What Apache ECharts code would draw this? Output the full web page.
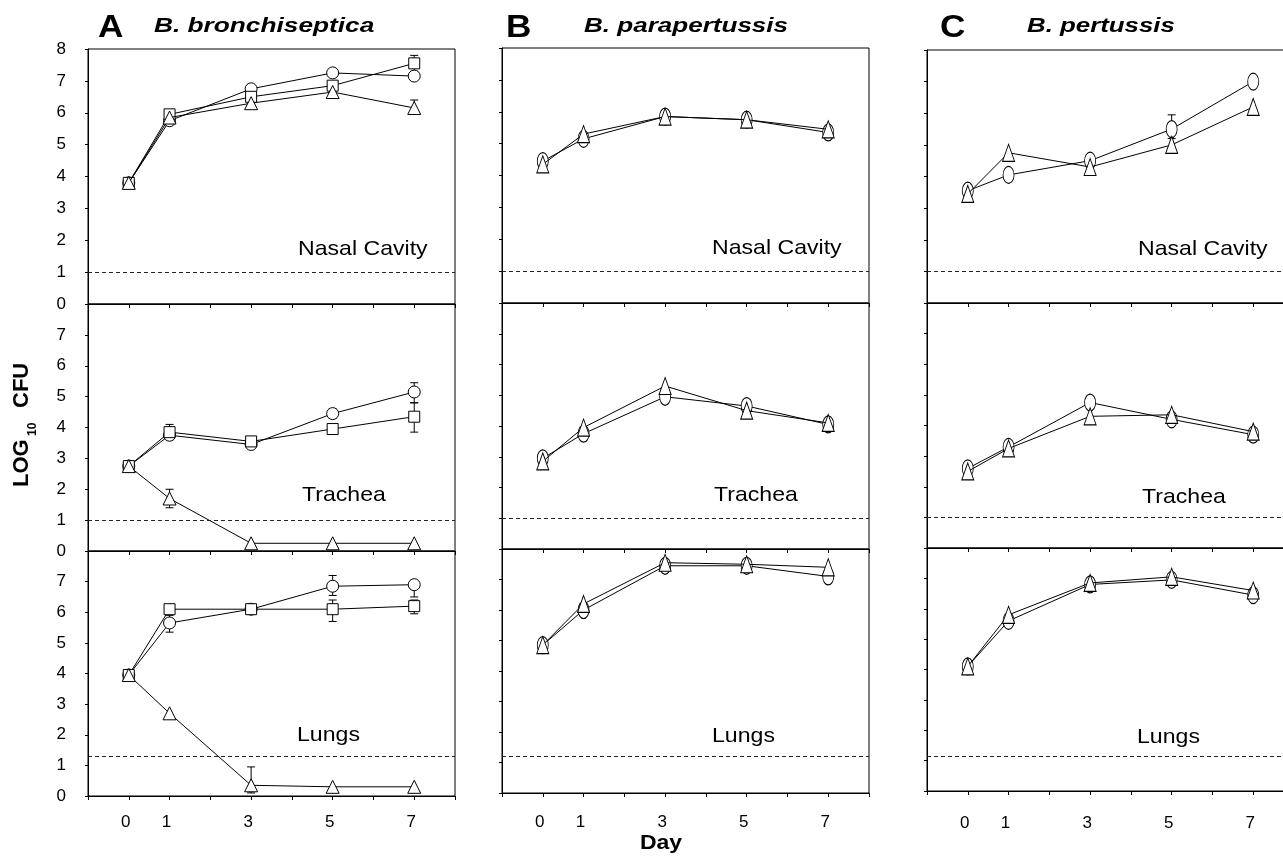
<!DOCTYPE html>
<html><head><meta charset="utf-8">
<script src="https://cdn.jsdelivr.net/npm/echarts@6/dist/echarts.min.js"></script>
<style>html,body{margin:0;padding:0;background:#fff;overflow:hidden}#c{width:1300px;height:856px}</style>
</head><body><div id="c"></div>
<script>
// ---------- data ----------
const days = [0, 1, 3, 5, 7];
const xTickLabels = [0, 1, 3, 5, 7];

// A. B. bronchiseptica
const aNasalCircle   = [3.8, 5.75, 6.75, 7.25, 7.15];
const aNasalSquare   = [3.8, 5.95, 6.5, 6.85, 7.55];
const aNasalTriangle = [3.8, 5.85, 6.3, 6.65, 6.15];
const aTracheaCircle   = [2.75, 3.75, 3.45, 4.45, 5.15];
const aTracheaSquare   = [2.75, 3.85, 3.55, 3.95, 4.35];
const aTracheaTriangle = [2.75, 1.7, 0.25, 0.25, 0.25];
const aLungsCircle   = [3.95, 5.65, 6.1, 6.85, 6.9];
const aLungsSquare   = [3.95, 6.1, 6.1, 6.1, 6.2];
const aLungsTriangle = [3.95, 2.7, 0.35, 0.3, 0.3];

// B. B. parapertussis
const bNasalCircle   = [4.45, 5.15, 5.85, 5.75, 5.35];
const bNasalTriangle = [4.35, 5.3, 5.85, 5.75, 5.45];
const bTracheaCircle   = [2.95, 3.75, 4.95, 4.65, 4.05];
const bTracheaTriangle = [2.85, 3.95, 5.3, 4.5, 4.1];
const bLungsCircle   = [4.85, 6.0, 7.45, 7.45, 7.1];
const bLungsTriangle = [4.85, 6.2, 7.55, 7.5, 7.4];

// C. B. pertussis
const cNasalCircle   = [3.55, 4.05, 4.5, 5.5, 7.0];
const cNasalTriangle = [3.45, 4.75, 4.3, 5.0, 6.2];
const cTracheaCircle   = [2.6, 3.3, 4.75, 4.2, 3.7];
const cTracheaTriangle = [2.5, 3.25, 4.3, 4.35, 3.8];
const cLungsCircle   = [4.1, 5.6, 6.8, 6.95, 6.45];
const cLungsTriangle = [4.1, 5.8, 6.85, 7.05, 6.6];

// error bars: [day, low, high]
const aNasalErrors   = [[7, 7.3, 7.8], [7, 6.0, 6.4]];
const aTracheaErrors = [[1, 3.6, 4.1], [1, 1.4, 2.0], [5, 4.3, 4.6], [7, 4.8, 5.45], [7, 3.85, 4.8]];
const aLungsErrors   = [[1, 5.35, 5.9], [3, 0.1, 0.95], [5, 6.55, 7.2], [5, 5.7, 6.4], [7, 6.5, 7.0], [7, 5.95, 6.4]];
const cNasalErrors   = [[5, 5.2, 5.95]];

// detection limits
const nasalLimits   = [1.0, 1.0, 1.0];
const tracheaLimits = [1.0, 1.0, 1.0];
const lungsLimits   = [1.3, 1.2, 1.15];

const speciesTitles = ['B. bronchiseptica', 'B. parapertussis', 'B. pertussis'];
const panelLetters = ['A', 'B', 'C'];
const tissueNames = ['Nasal Cavity', 'Trachea', 'Lungs'];

// ---------- layout ----------
const cols = [
  { left: 88,  tops: [49, 304, 551], heights: [255, 247, 245], labelMargin: 18 },
  { left: 502, tops: [48, 303, 549], heights: [255, 246, 244], labelMargin: 21 },
  { left: 927, tops: [50, 303, 548], heights: [253, 245, 243], labelMargin: 24 }
];
const gridWidth = 367;

const A_SYM = { circle: ['circle', 12], square: ['rect', 11], triangle: ['triangle', 13] };
const BC_SYM = { circle: ['circle', [11, 17]], triangle: ['triangle', [12, 17]] };

const panels = [
  { col: 0, row: 0, limit: nasalLimits[0], errs: aNasalErrors, lines: [[aNasalCircle, A_SYM.circle], [aNasalSquare, A_SYM.square], [aNasalTriangle, A_SYM.triangle]] },
  { col: 0, row: 1, limit: tracheaLimits[0], errs: aTracheaErrors, lines: [[aTracheaCircle, A_SYM.circle], [aTracheaSquare, A_SYM.square], [aTracheaTriangle, A_SYM.triangle]] },
  { col: 0, row: 2, limit: lungsLimits[0], errs: aLungsErrors, lines: [[aLungsCircle, A_SYM.circle], [aLungsSquare, A_SYM.square], [aLungsTriangle, A_SYM.triangle]] },
  { col: 1, row: 0, limit: nasalLimits[1], errs: [], lines: [[bNasalCircle, BC_SYM.circle], [bNasalTriangle, BC_SYM.triangle]] },
  { col: 1, row: 1, limit: tracheaLimits[1], errs: [], lines: [[bTracheaCircle, BC_SYM.circle], [bTracheaTriangle, BC_SYM.triangle]] },
  { col: 1, row: 2, limit: lungsLimits[1], errs: [], lines: [[bLungsCircle, BC_SYM.circle], [bLungsTriangle, BC_SYM.triangle]] },
  { col: 2, row: 0, limit: nasalLimits[2], errs: cNasalErrors, lines: [[cNasalCircle, BC_SYM.circle], [cNasalTriangle, BC_SYM.triangle]] },
  { col: 2, row: 1, limit: tracheaLimits[2], errs: [], lines: [[cTracheaCircle, BC_SYM.circle], [cTracheaTriangle, BC_SYM.triangle]] },
  { col: 2, row: 2, limit: lungsLimits[2], errs: [], lines: [[cLungsCircle, BC_SYM.circle], [cLungsTriangle, BC_SYM.triangle]] }
];

const FONT = '"Liberation Sans", Arial, Helvetica, sans-serif';

const grids = [], xAxes = [], yAxes = [], series = [];
panels.forEach((p, idx) => {
  const c = cols[p.col];
  grids.push({
    left: c.left, top: c.tops[p.row], width: gridWidth, height: c.heights[p.row],
    outerBoundsMode: 'none', containLabel: false,
    show: true, borderColor: '#000', borderWidth: 1, backgroundColor: 'transparent'
  });
  xAxes.push({
    type: 'value', gridIndex: idx, min: -1, max: 8, interval: 1,
    axisLine: { show: true, onZero: false, lineStyle: { color: '#000', width: 1 } },
    axisTick: { show: true, length: 4, lineStyle: { color: '#000' } },
    splitLine: { show: false },
    axisLabel: {
      show: p.row === 2, color: '#000', fontSize: 17, fontFamily: FONT, margin: c.labelMargin,
      padding: [0, 6, 0, 0],
      formatter: v => xTickLabels.includes(v) ? String(v) : ''
    }
  });
  yAxes.push({
    type: 'value', gridIndex: idx, min: 0, max: 8, interval: 1,
    axisLine: { show: true, onZero: false, lineStyle: { color: '#000', width: 1 } },
    axisTick: { show: true, length: 3, lineStyle: { color: '#000' } },
    splitLine: { show: false },
    axisLabel: {
      show: p.col === 0, color: '#000', fontSize: 17, fontFamily: FONT, margin: 22,
      formatter: v => (v === 8 && p.row !== 0) ? '' : String(v)
    }
  });
  if (p.errs.length) {
    series.push({
      type: 'custom', xAxisIndex: idx, yAxisIndex: idx, z: 1, silent: true,
      data: p.errs, encode: { x: 0, y: [1, 2] },
      renderItem: (params, api) => {
        const lo = api.coord([api.value(0), api.value(1)]);
        const hi = api.coord([api.value(0), api.value(2)]);
        const cw = 4;
        const st = { stroke: '#000', lineWidth: 1 };
        return { type: 'group', children: [
          { type: 'line', shape: { x1: lo[0], y1: lo[1], x2: hi[0], y2: hi[1] }, style: st },
          { type: 'line', shape: { x1: lo[0] - cw, y1: lo[1], x2: lo[0] + cw, y2: lo[1] }, style: st },
          { type: 'line', shape: { x1: hi[0] - cw, y1: hi[1], x2: hi[0] + cw, y2: hi[1] }, style: st }
        ]};
      }
    });
  }
  p.lines.forEach((ln, k) => {
    const s = {
      type: 'line', xAxisIndex: idx, yAxisIndex: idx, z: 2 + k,
      data: days.map((d, i) => [d, ln[0][i]]),
      symbol: ln[1][0], symbolSize: ln[1][1], showAllSymbol: true,
      lineStyle: { color: '#000', width: 1 },
      itemStyle: { color: '#fff', borderColor: '#000', borderWidth: 1 },
      silent: true
    };
    if (k === 0) {
      s.markLine = {
        silent: true, symbol: ['none', 'none'], label: { show: false },
        lineStyle: { color: '#222', type: [4, 3], width: 1 },
        data: [{ yAxis: p.limit }]
      };
    }
    series.push(s);
  });
});

// ---------- texts ----------
function txt(x, y, text, font, scaleX, align) {
  return {
    type: 'text', x: x, y: y, scaleX: scaleX || 1, silent: true,
    style: { text: text, font: font, fill: '#000',
      align: align || 'left', textAlign: align || 'left',
      verticalAlign: 'middle', textVerticalAlign: 'middle' }
  };
}
const letterX = [98, 506, 940];
const titleX = [154, 584, 1027];
const titleScale = [1.25, 1.24, 1.23];
const tissueX = [[298, 302, 297], [712, 714, 712], [1138, 1142, 1137]];
const tissueY = [[249, 495, 735], [248, 495, 736], [249, 497, 737]];

const graphics = [];
for (let i = 0; i < 3; i++) {
  graphics.push(txt(letterX[i], 28, panelLetters[i], 'bold 32px ' + FONT, 1.1));
  graphics.push(txt(titleX[i], 26, speciesTitles[i], 'italic bold 21px ' + FONT, titleScale[i]));
  for (let r = 0; r < 3; r++) {
    graphics.push(txt(tissueX[i][r], tissueY[i][r], tissueNames[r], '21px ' + FONT, 1.1));
  }
}
graphics.push(txt(661, 843, 'Day', 'bold 20px ' + FONT, 1.15, 'center'));
graphics.push({
  type: 'group', x: 26, y: 423, rotation: Math.PI / 2, silent: true,
  children: [
    { type: 'text', x: -64, y: -4, style: { text: 'LOG', font: 'bold 22px ' + FONT, fill: '#000', align: 'left', textAlign: 'left', verticalAlign: 'middle', textVerticalAlign: 'middle' } },
    { type: 'text', x: -13, y: 7, style: { text: '10', font: 'bold 12px ' + FONT, fill: '#000', align: 'left', textAlign: 'left', verticalAlign: 'middle', textVerticalAlign: 'middle' } },
    { type: 'text', x: 15, y: -4, style: { text: 'CFU', font: 'bold 22px ' + FONT, fill: '#000', align: 'left', textAlign: 'left', verticalAlign: 'middle', textVerticalAlign: 'middle' } }
  ]
});

const chart = echarts.init(document.getElementById('c'), null, { renderer: 'canvas' });
chart.setOption({
  animation: false,
  backgroundColor: '#fff',
  grid: grids,
  xAxis: xAxes,
  yAxis: yAxes,
  series: series,
  graphic: graphics
});
</script>
</body></html>
